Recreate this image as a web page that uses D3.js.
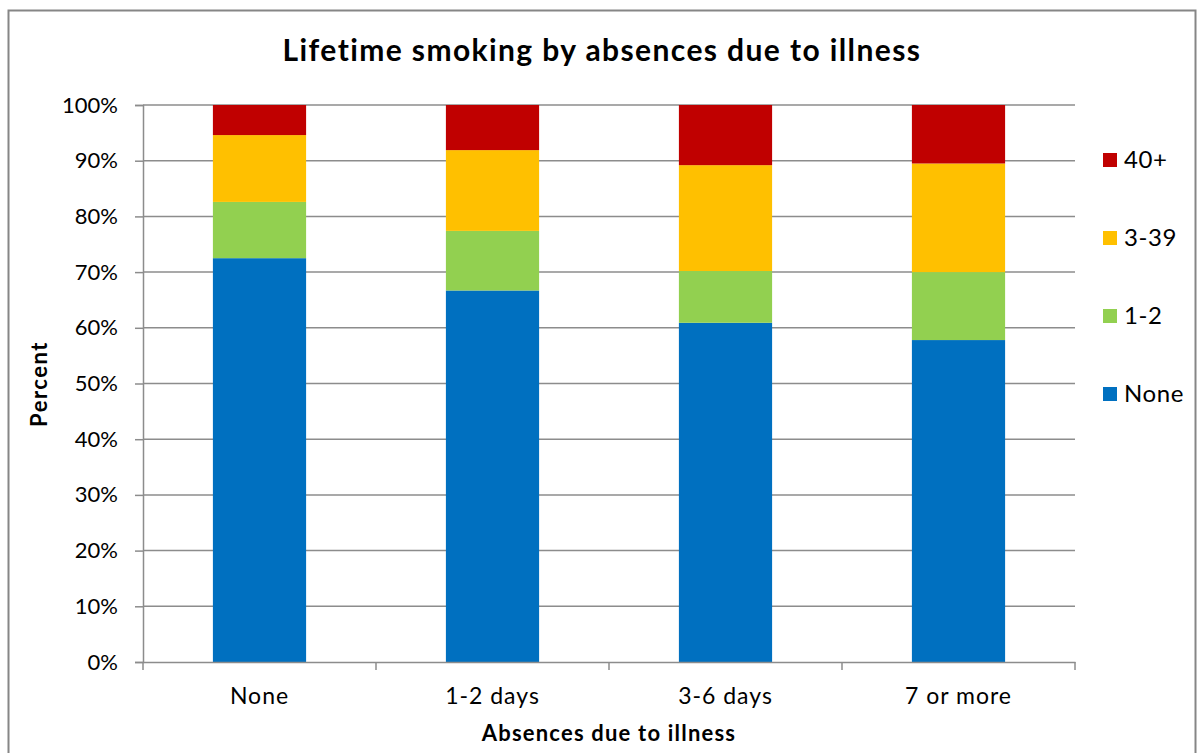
<!DOCTYPE html>
<html><head><meta charset="utf-8">
<script src="https://cdn.jsdelivr.net/npm/d3@7"></script>
<style>body{margin:0;background:#fff;} svg{display:block;}</style>
</head><body>
<svg id="chart" width="1204" height="753"></svg>
<script>
const categories = ["None", "1-2 days", "3-6 days", "7 or more"];
const seriesNames = ["None", "1-2", "3-39", "40+"];
const seriesColors = ["#0070C0", "#92D050", "#FFC000", "#C00000"];
const valNone = [72.5, 66.7, 60.9, 57.8];
const val12 = [10.1, 10.7, 9.3, 12.2];
const val339 = [12.0, 14.5, 19.0, 19.5];
const val40 = [5.4, 8.1, 10.8, 10.5];
const yTicks = [0, 10, 20, 30, 40, 50, 60, 70, 80, 90, 100];

const font = "Lato, 'Open Sans', sans-serif";
const svg = d3.select("#chart");
const m = {left: 143, right: 1075, top: 105, bottom: 662};

svg.append("rect").attr("x", 8.5).attr("y", 10.5).attr("width", 1187).attr("height", 760)
  .attr("fill", "#fff").attr("stroke", "#868686").attr("stroke-width", 2);

const x = d3.scaleBand().domain(categories).range([m.left, m.right]).paddingInner(0.6).paddingOuter(0.3);
const y = d3.scaleLinear().domain([0, 100]).range([m.bottom, m.top]);

// gridlines
svg.append("g").selectAll("line").data(yTicks.filter(d => d > 0)).join("line")
  .attr("x1", m.left).attr("x2", m.right)
  .attr("y1", d => y(d)).attr("y2", d => y(d))
  .attr("stroke", "#8c8c8c").attr("stroke-width", 1.5);

// stacked data
const rows = categories.map((c, i) => ({cat: c, "None": valNone[i], "1-2": val12[i], "3-39": val339[i], "40+": val40[i]}));
const layers = d3.stack().keys(seriesNames)(rows);
svg.append("g").selectAll("g").data(layers).join("g")
  .attr("fill", (d, i) => seriesColors[i])
  .selectAll("rect").data(d => d).join("rect")
  .attr("x", d => x(d.data.cat))
  .attr("width", x.bandwidth())
  .attr("y", d => y(d[1]))
  .attr("height", d => y(d[0]) - y(d[1]));

// y axis
const yAxis = d3.axisLeft(y).tickValues(yTicks).tickFormat(d => d + "%").tickSize(8).tickPadding(17);
const gy = svg.append("g").attr("transform", `translate(${m.left},0)`).call(yAxis);
gy.select(".domain").attr("stroke", "#8c8c8c").attr("stroke-width", 1.5);
gy.selectAll(".tick line").attr("stroke", "#8c8c8c").attr("stroke-width", 1.5);
gy.selectAll(".tick text").attr("font-family", font).attr("font-size", 22).attr("fill", "#000");

// x axis
const xAxis = d3.axisBottom(x).tickSize(0).tickPadding(26);
const gx = svg.append("g").attr("transform", `translate(0,${m.bottom})`).call(xAxis);
gx.select(".domain").attr("stroke", "#8c8c8c").attr("stroke-width", 1.5);
gx.selectAll(".tick text").attr("font-family", font).attr("font-size", 23)
  .attr("letter-spacing", 1).attr("fill", "#000");
// category boundary ticks
const bounds = [m.left].concat(categories.map(c => x(c) + x.bandwidth() + x.step() * 0.3));
svg.append("g").selectAll("line").data(bounds).join("line")
  .attr("x1", d => d).attr("x2", d => d)
  .attr("y1", m.bottom).attr("y2", m.bottom + 8)
  .attr("stroke", "#8c8c8c").attr("stroke-width", 1.5);

// titles
svg.append("text").attr("x", 602).attr("y", 61).attr("text-anchor", "middle")
  .attr("font-family", font).attr("font-weight", "bold").attr("font-size", 30)
  .attr("letter-spacing", 1.4)
  .text("Lifetime smoking by absences due to illness");
svg.append("text").attr("x", 609).attr("y", 741).attr("text-anchor", "middle")
  .attr("font-family", font).attr("font-weight", "bold").attr("font-size", 22)
  .attr("letter-spacing", 1.2)
  .text("Absences due to illness");
svg.append("text").attr("transform", "translate(47,384) rotate(-90)").attr("text-anchor", "middle")
  .attr("font-family", font).attr("font-weight", "bold").attr("font-size", 22)
  .attr("letter-spacing", 1.5)
  .text("Percent");

// legend
const legendOrder = [3, 2, 1, 0];
const lg = svg.append("g").selectAll("g").data(legendOrder).join("g")
  .attr("transform", (d, i) => `translate(1103,${160 + i * 78})`);
lg.append("rect").attr("x", 0).attr("y", -7).attr("width", 14).attr("height", 14)
  .attr("fill", d => seriesColors[d]);
lg.append("text").attr("x", 21).attr("y", 0).attr("dy", "0.35em")
  .attr("font-family", font).attr("font-size", 24).attr("letter-spacing", 0.6)
  .text(d => seriesNames[d]);
</script>
</body></html>
